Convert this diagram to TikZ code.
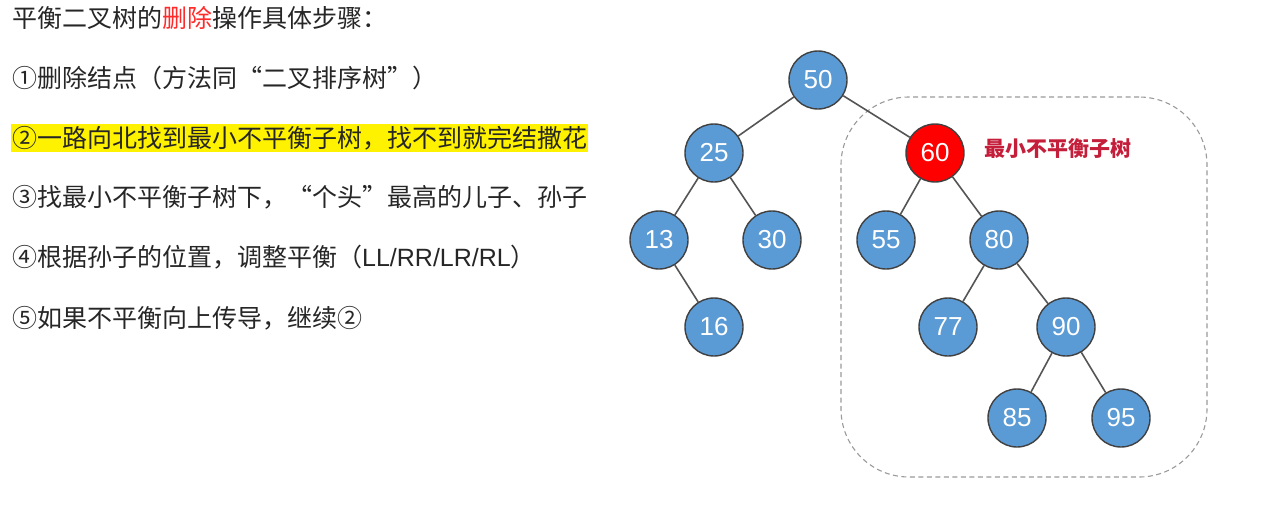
\documentclass[tikz,border=0pt]{standalone}
\usepackage{fontspec}
\setmainfont{Liberation Sans}
\newfontfamily\cjk{Noto Sans CJK SC}
\newfontfamily\numfont{Liberation Sans}
\definecolor{nodeblue}{HTML}{5B9BD5}
\definecolor{nodeedge}{HTML}{404040}
\definecolor{edgegray}{HTML}{555555}
\definecolor{lblred}{HTML}{C41E3A}
\definecolor{delred}{HTML}{FF2A2A}
\definecolor{boxgray}{HTML}{9A9A9A}
\begin{document}
\begin{tikzpicture}[x=1pt,y=-1pt,
  tnode/.style={circle,draw=nodeedge,line width=1.4pt,fill=nodeblue,minimum size=58pt,inner sep=0pt,text=white,font=\numfont\fontsize{26}{28}\selectfont},
  rnode/.style={tnode,fill=red},
  tedge/.style={draw=edgegray,line width=1.6pt},
  steptext/.style={anchor=west,inner sep=0pt,font=\cjk\fontsize{25}{28}\selectfont,text=black!85}
]
\useasboundingbox (0,0) rectangle (1262,531);
% text
\node[steptext] (t0) at (12,18) {平衡二叉树的{\color{delred}删除}操作具体步骤：};
\node[steptext] (t1) at (12,78) {①删除结点（方法同“二叉排序树”）};
\node[steptext,fill=yellow,inner xsep=1pt,inner ysep=2pt] (t2) at (11,138) {②一路向北找到最小不平衡子树，找不到就完结撒花};
\node[steptext] (t3) at (12,197) {③找最小不平衡子树下，“个头”最高的儿子、孙子};
\node[steptext] (t4) at (12,257) {④根据孙子的位置，调整平衡（{\numfont LL/RR/LR/RL}）};
\node[steptext] (t5) at (12,318) {⑤如果不平衡向上传导，继续②};
% dashed box
\node[draw=boxgray,dashed,dash pattern=on 5pt off 3.5pt,line width=1.1pt,rounded corners=68pt,minimum width=366pt,minimum height=380pt,inner sep=0pt] (box) at (1024,287) {};
% tree nodes
\node[tnode] (n50) at (818,80) {50};
\node[tnode] (n25) at (714,153) {25};
\node[rnode] (n60) at (935,153) {60};
\node[tnode] (n13) at (659,240) {13};
\node[tnode] (n30) at (772,240) {30};
\node[tnode] (n55) at (886,240) {55};
\node[tnode] (n80) at (999,240) {80};
\node[tnode] (n16) at (714,327) {16};
\node[tnode] (n77) at (948,327) {77};
\node[tnode] (n90) at (1066,327) {90};
\node[tnode] (n85) at (1017,418) {85};
\node[tnode] (n95) at (1121,418) {95};
% edges
\path[tedge] (n50) -- (n25);
\path[tedge] (n50) -- (n60);
\path[tedge] (n25) -- (n13);
\path[tedge] (n25) -- (n30);
\path[tedge] (n13) -- (n16);
\path[tedge] (n60) -- (n55);
\path[tedge] (n60) -- (n80);
\path[tedge] (n80) -- (n77);
\path[tedge] (n80) -- (n90);
\path[tedge] (n90) -- (n85);
\path[tedge] (n90) -- (n95);
% label
\node[anchor=west,inner sep=0pt,text=lblred,font=\cjk\bfseries\fontsize{21}{24}\selectfont] (lbl) at (984,149) {最小不平衡子树};
\end{tikzpicture}
\end{document}
